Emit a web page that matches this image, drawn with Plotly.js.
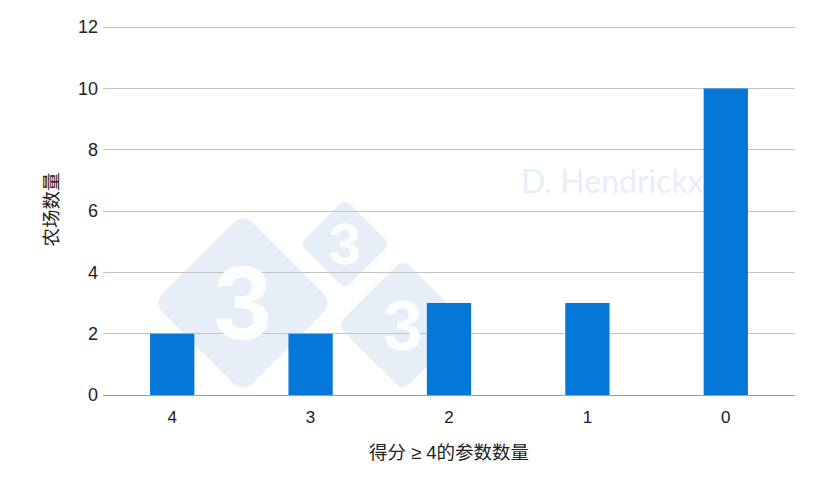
<!DOCTYPE html>
<html>
<head>
<meta charset="utf-8">
<script src="https://cdn.plot.ly/plotly-3.0.1.min.js"></script>
<style>
  html, body { margin: 0; padding: 0; background: #fff; }
  #chart { width: 820px; height: 496px; }
</style>
</head>
<body>
<div id="chart"></div>
<script>
/* ── data ── */
const categories = ['4', '3', '2', '1', '0'];
const farmCounts = [2, 2, 3, 3, 10];
const yTicks     = [0, 2, 4, 6, 8, 10, 12];

const BAR_BLUE  = '#0477d8';
const MARK_BLUE = 'rgb(230,238,248)';

/* plot area in pixels, used to place the watermark */
const PLOT = { l: 103, r: 795, t: 24, b: 395 };
const px = x => (x - PLOT.l) / (PLOT.r - PLOT.l);
const py = y => (PLOT.b - y) / (PLOT.b - PLOT.t);

/* rounded diamond watermark: centre + half diagonal, in pixels */
function diamond(cx, cy, h) {
    const pts = [[cx, cy - h], [cx + h, cy], [cx, cy + h], [cx - h, cy]];
    const k = 0.12;  // corner rounding, share of each edge
    const lerp = (a, b, t) => [a[0] + (b[0] - a[0]) * t, a[1] + (b[1] - a[1]) * t];
    const P = p => px(p[0]) + ',' + py(p[1]);
    let d = '';
    pts.forEach((c, i) => {
        const prev = pts[(i + 3) % 4], next = pts[(i + 1) % 4];
        const a = lerp(c, prev, k), b = lerp(c, next, k);
        d += (i === 0 ? 'M ' : ' L ') + P(a) + ' Q ' + P(c) + ' ' + P(b);
    });
    return {
        type: 'path', xref: 'paper', yref: 'paper', layer: 'below',
        path: d + ' Z', fillcolor: MARK_BLUE, line: { width: 0 }
    };
}
function three(cx, cy, size) {
    return {
        text: '<b>3</b>', xref: 'paper', yref: 'paper',
        x: px(cx), y: py(cy), xanchor: 'center', yanchor: 'middle', showarrow: false,
        font: { family: 'Liberation Sans', size: size, color: 'rgba(255,255,255,0.95)' }
    };
}

const marks = [[243, 303, 90, 104], [345, 244, 45, 57], [403, 325, 66, 71]];

Plotly.newPlot('chart', [{
    x: categories,
    y: farmCounts,
    type: 'bar',
    marker: { color: BAR_BLUE },
    hoverinfo: 'skip'
}], {
    width: 820,
    height: 496,
    margin: { l: PLOT.l, r: 820 - PLOT.r, t: PLOT.t, b: 496 - PLOT.b },
    paper_bgcolor: '#fff',
    plot_bgcolor: 'rgba(0,0,0,0)',
    bargap: 0.68,
    showlegend: false,
    font: { family: 'Liberation Sans, Arial, sans-serif', color: '#222', size: 18 },
    xaxis: {
        type: 'category',
        showgrid: false,
        showline: true,
        linecolor: '#9e9e9e',
        ticks: '',
        ticklabelstandoff: 7,
        tickfont: { size: 17, color: '#222' },
        title: {
            text: '得分 ≥ 4的参数数量',
            standoff: 19,
            font: { family: 'Liberation Sans, Noto Sans CJK SC', size: 18.5, color: '#222' }
        }
    },
    yaxis: {
        range: [0, 12.1],
        tickvals: yTicks,
        gridcolor: '#c4c4c4',
        zeroline: false,
        ticks: '',
        ticklabelstandoff: 4,
        tickfont: { size: 18, color: '#222' },
        title: {
            text: '农场数量',
            standoff: 14,
            font: { family: 'Noto Sans CJK SC, Liberation Sans', size: 18.5, color: '#222' }
        }
    },
    shapes: marks.map(m => diamond(m[0], m[1], m[2])),
    annotations: marks.map(m => three(m[0], m[1], m[3])).concat([{
        text: 'D. Hendrickx', xref: 'paper', yref: 'paper',
        x: px(612), y: py(180), xanchor: 'center', yanchor: 'middle', showarrow: false,
        font: { family: 'Lato, Open Sans', size: 32, color: '#e8eef6' }
    }])
}, { displayModeBar: false, staticPlot: true });
</script>
</body>
</html>
